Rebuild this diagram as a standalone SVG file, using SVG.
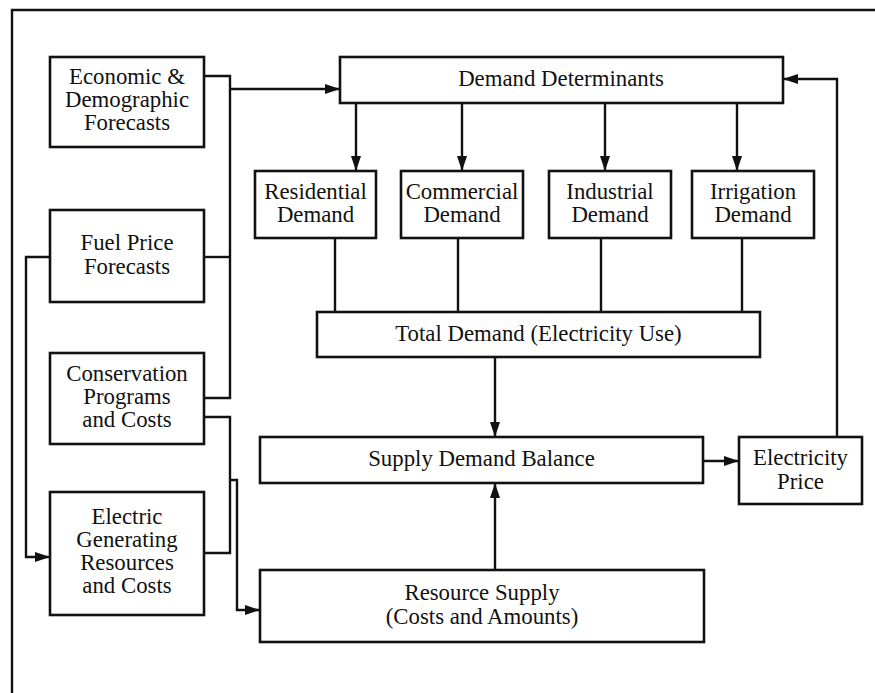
<svg xmlns="http://www.w3.org/2000/svg" width="875" height="693" viewBox="0 0 875 693">
<style>
.box{fill:#fff;stroke:#111;stroke-width:2.6}
.ln{fill:none;stroke:#111;stroke-width:2.4}
text{font-family:"Liberation Serif","Times New Roman",serif;font-size:22.8px;fill:#111;text-anchor:middle}
</style>
<defs>
<marker id="ah" viewBox="0 0 15 10" refX="15" refY="5" markerWidth="15" markerHeight="10" markerUnits="userSpaceOnUse" orient="auto">
<path d="M0,0 L15,5 L0,10 Z" fill="#111"/>
</marker>
</defs>
<rect width="875" height="693" fill="#fff"/>
<path class="ln" d="M12,693 V10 H875" stroke-width="2.6"/>
<g id="connectors">
<path class="ln" d="M204,76 H230 V398 H204"/>
<path class="ln" d="M204,257 H230"/>
<path class="ln" d="M230,89 H340" marker-end="url(#ah)"/>
<path class="ln" d="M50,257 H26 V557 H50" marker-end="url(#ah)"/>
<path class="ln" d="M204,417 H230 V553 H204"/>
<path class="ln" d="M230,480 H237 V610 H260" marker-end="url(#ah)"/>
<path class="ln" d="M356,103 V171" marker-end="url(#ah)"/>
<path class="ln" d="M462,103 V171" marker-end="url(#ah)"/>
<path class="ln" d="M605,103 V171" marker-end="url(#ah)"/>
<path class="ln" d="M737,103 V171" marker-end="url(#ah)"/>
<path class="ln" d="M335,238 V312"/>
<path class="ln" d="M458,238 V312"/>
<path class="ln" d="M601,238 V312"/>
<path class="ln" d="M742,238 V312"/>
<path class="ln" d="M495,357 V437" marker-end="url(#ah)"/>
<path class="ln" d="M495,570 V483" marker-end="url(#ah)"/>
<path class="ln" d="M703,461 H739" marker-end="url(#ah)"/>
<path class="ln" d="M837,437 V79 H783" marker-end="url(#ah)"/>
</g>
<g id="economic"><rect class="box" x="50" y="57" width="154" height="90"/><text x="127" y="84">Economic &amp;</text><text x="127" y="107">Demographic</text><text x="127" y="130">Forecasts</text></g>
<g id="fuel"><rect class="box" x="50" y="210" width="154" height="92"/><text x="127" y="250">Fuel Price</text><text x="127" y="274">Forecasts</text></g>
<g id="conservation"><rect class="box" x="50" y="353" width="154" height="91"/><text x="127" y="381">Conservation</text><text x="127" y="404">Programs</text><text x="127" y="427">and Costs</text></g>
<g id="electric"><rect class="box" x="50" y="492" width="154" height="123"/><text x="127" y="524">Electric</text><text x="127" y="547">Generating</text><text x="127" y="570">Resources</text><text x="127" y="593">and Costs</text></g>
<g id="determinants"><rect class="box" x="340" y="57" width="443" height="46"/><text x="561" y="86">Demand Determinants</text></g>
<g id="residential"><rect class="box" x="255" y="171" width="121" height="67"/><text x="315.5" y="199">Residential</text><text x="315.5" y="222">Demand</text></g>
<g id="commercial"><rect class="box" x="401" y="171" width="122" height="67"/><text x="462" y="199">Commercial</text><text x="462" y="222">Demand</text></g>
<g id="industrial"><rect class="box" x="549" y="171" width="122" height="67"/><text x="610" y="199">Industrial</text><text x="610" y="222">Demand</text></g>
<g id="irrigation"><rect class="box" x="692" y="171" width="122" height="67"/><text x="753" y="199">Irrigation</text><text x="753" y="222">Demand</text></g>
<g id="total"><rect class="box" x="317" y="312" width="443" height="45"/><text x="538.5" y="341">Total Demand (Electricity Use)</text></g>
<g id="balance"><rect class="box" x="260" y="437" width="443" height="46"/><text x="481.5" y="466">Supply Demand Balance</text></g>
<g id="price"><rect class="box" x="739" y="437" width="123" height="67"/><text x="800.5" y="465">Electricity</text><text x="800.5" y="489">Price</text></g>
<g id="supply"><rect class="box" x="260" y="570" width="444" height="72"/><text x="482" y="600">Resource Supply</text><text x="482" y="624">(Costs and Amounts)</text></g>
</svg>
